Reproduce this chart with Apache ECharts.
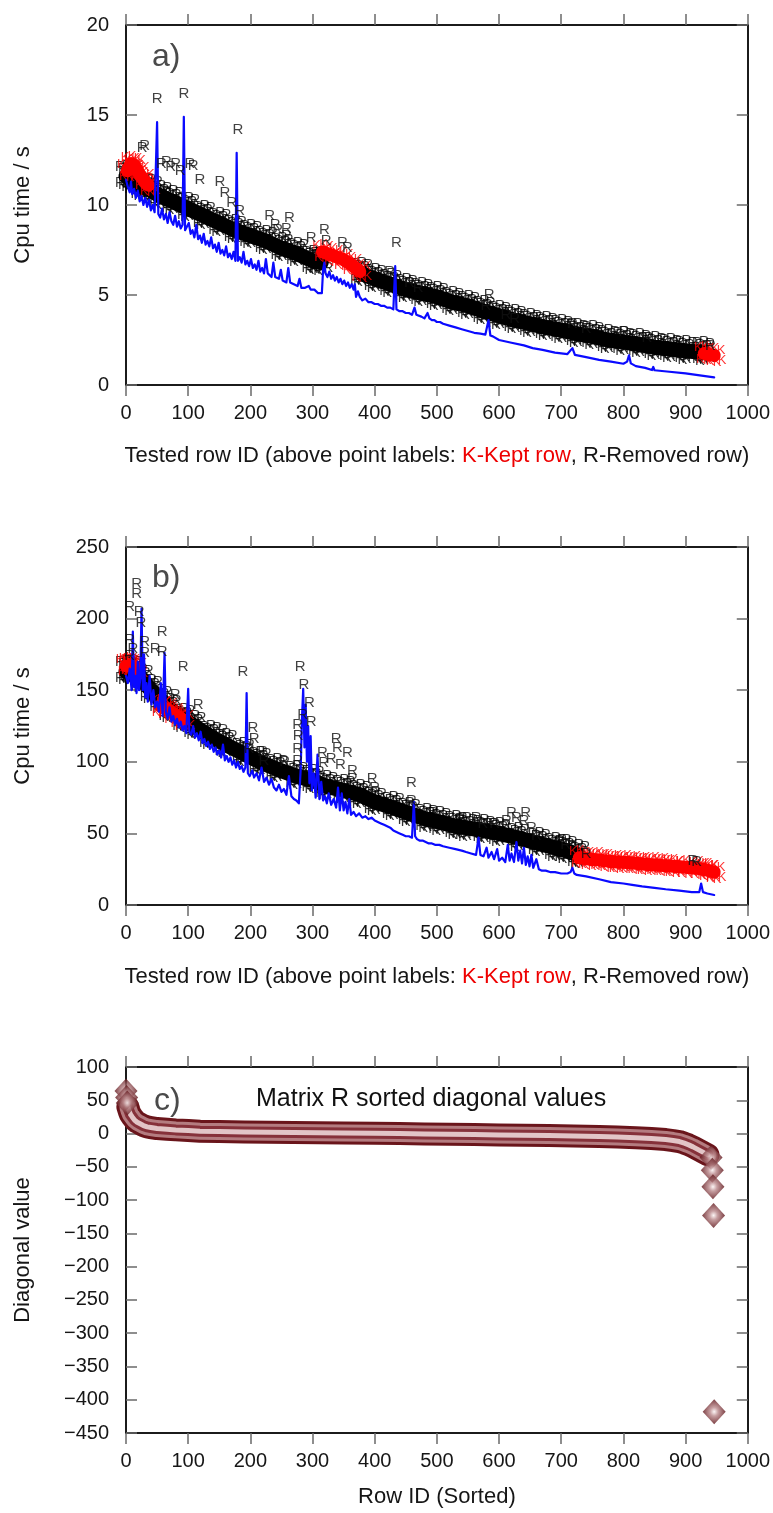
<!DOCTYPE html>
<html><head><meta charset="utf-8">
<script src="https://cdn.jsdelivr.net/npm/echarts/dist/echarts.min.js"></script>
<style>html,body{margin:0;padding:0;background:#fff}#c{width:773px;height:1513px}</style>
</head><body><div id="c"></div>
<script>
// ---------- tick labels ----------
const xTicks = [0,100,200,300,400,500,600,700,800,900,1000];
const yTicksA = [0,5,10,15,20];
const yTicksB = [0,50,100,150,200,250];
const yTicksC = [-450,-400,-350,-300,-250,-200,-150,-100,-50,0,50,100];

// ---------- panel a ----------
const cpuA = [[0,11.4],[3,11.0],[6,10.7],[8,11.3],[10,10.6],[13,10.9],[16,10.4],[19,10.8],[22,10.2],[25,10.5],[28,10.0],[31,10.4],[34,9.9],[37,10.3],[40,9.7],[43,10.0],[46,9.6],[48,9.5],[50,14.6],[52,9.5],[55,9.3],[58,9.8],[61,9.2],[64,9.5],[67,9.0],[70,9.6],[73,9.1],[76,8.9],[79,9.4],[82,8.8],[85,9.1],[88,8.7],[91,8.9],[93,14.9],[95,8.6],[98,8.5],[101,9.0],[104,8.4],[107,8.6],[110,8.2],[113,8.9],[116,8.1],[119,8.3],[122,7.9],[125,8.4],[128,7.8],[131,8.0],[134,7.7],[137,8.2],[140,7.6],[143,7.8],[146,7.4],[149,7.9],[152,7.3],[155,7.5],[158,7.2],[161,7.7],[164,7.1],[167,7.3],[170,7.0],[173,7.4],[176,6.9],[178,12.9],[180,6.9],[183,7.1],[186,6.8],[189,7.4],[192,6.7],[195,6.9],[198,6.6],[201,7.0],[204,6.5],[207,6.7],[210,6.4],[213,6.9],[216,6.3],[219,6.5],[222,6.2],[225,7.0],[228,6.2],[231,6.3],[234,6.0],[237,6.8],[240,6.0],[243,6.1],[246,5.9],[249,6.4],[252,5.8],[255,5.9],[258,5.7],[261,6.5],[264,5.7],[267,5.8],[270,5.6],[273,5.6],[276,5.5],[279,5.9],[282,5.4],[285,5.5],[288,5.4],[291,5.3],[294,5.5],[297,5.3],[300,5.2],[303,5.3],[306,5.2],[309,5.1],[312,5.2],[315,5.1],[317,6.4],[319,6.8],[321,6.2],[324,6.0],[327,6.3],[330,5.9],[333,6.1],[336,5.8],[339,6.0],[342,5.7],[345,5.9],[348,5.6],[351,5.8],[354,5.5],[357,5.7],[360,5.4],[363,5.6],[366,5.3],[368,5.6],[370,4.9],[373,5.2],[376,4.9],[380,4.7],[385,4.8],[390,4.6],[395,4.6],[400,4.5],[405,4.5],[410,4.4],[415,4.4],[420,4.3],[425,4.3],[430,4.2],[433,6.6],[435,4.2],[440,4.1],[445,4.1],[450,4.0],[455,4.0],[460,3.9],[464,4.3],[467,3.9],[470,3.8],[475,3.8],[480,3.7],[485,4.0],[488,3.7],[492,3.6],[496,3.6],[500,3.5],[505,3.5],[510,3.4],[520,3.3],[530,3.2],[540,3.1],[550,3.0],[560,2.9],[570,2.85],[578,2.8],[583,3.6],[586,2.75],[590,2.7],[600,2.5],[620,2.35],[640,2.2],[654,2.05],[670,1.95],[690,1.8],[710,1.72],[718,2.05],[722,1.67],[740,1.55],[761,1.4],[780,1.3],[800,1.18],[806,1.3],[809,1.65],[812,1.2],[820,1.05],[835,0.95],[846,0.83],[848,1.0],[850,0.82],[870,0.75],[900,0.65],[920,0.55],[946,0.42]];
const bandA = [
  [[0,11.6],[10,11.4],[25,11.0],[40,10.8],[55,10.5],[75,10.2],[100,9.8],[125,9.4],[150,9.0],[175,8.6],[200,8.3],[225,8.0],[250,7.6],[275,7.3],[300,6.9],[314,6.8]],
  [[378,6.2],[400,5.9],[425,5.6],[450,5.3],[475,5.1],[500,4.9],[525,4.6],[550,4.4],[575,4.1],[600,3.85],[625,3.6],[650,3.4],[675,3.2],[700,3.05],[725,2.85],[750,2.7],[775,2.5],[800,2.4],[825,2.25],[850,2.1],[875,2.0],[900,1.9],[928,1.8]]
];
const keptA = [
  [[2,11.9],[8,12.3],[14,12.2],[20,11.8],[28,11.4],[36,11.1]],
  [[316,7.4],[332,7.2],[348,7.0],[362,6.7],[376,6.3]],
  [[930,1.75],[946,1.65]]
];
const removedA = [[50,15.9],[93,16.2],[180,14.2],[26,13.2],[30,13.3],[57,12.3],[65,12.4],[72,12.1],[80,12.3],[87,11.9],[103,12.3],[108,12.2],[119,11.4],[151,11.3],[159,10.7],[170,10.1],[183,9.7],[231,9.4],[263,9.3],[240,8.9],[244,8.6],[258,8.7],[258,8.3],[298,8.2],[319,8.6],[322,8.0],[348,7.9],[356,7.6],[435,7.9],[424,6.3],[456,5.7],[470,5.4],[584,5.0],[579,4.4],[611,3.9],[625,3.7],[718,3.4],[740,3.1],[801,2.95],[838,2.6],[940,2.2]];

// ---------- panel b ----------
const cpuB = [[0,160],[3,155],[6,165],[9,150],[11,191],[13,152],[15,160],[17,148],[19,170],[21,150],[23,158],[25,207],[27,150],[29,175],[31,145],[33,155],[35,142],[38,160],[41,140],[44,150],[47,138],[50,142],[53,135],[56,155],[59,132],[62,176],[64,135],[67,130],[70,138],[73,128],[76,132],[79,126],[82,130],[85,124],[88,128],[91,122],[94,125],[97,120],[100,151],[102,121],[105,119],[108,125],[111,117],[114,120],[117,115],[120,121],[123,113],[126,116],[129,111],[132,114],[135,109],[138,112],[141,107],[144,110],[147,105],[150,108],[153,103],[156,112],[159,101],[162,104],[165,100],[168,103],[171,98],[174,101],[177,96],[180,100],[183,95],[186,97],[189,93],[192,96],[194,148],[196,92],[199,90],[203,94],[206,89],[210,92],[214,87],[218,96],[222,86],[226,89],[230,84],[234,88],[238,82],[242,80],[246,84],[250,79],[254,81],[258,77],[262,90],[266,76],[270,74],[274,73],[278,71],[281,95],[283,130],[285,151],[287,110],[289,140],[291,100],[293,125],[295,85],[297,118],[299,80],[302,92],[305,75],[308,105],[311,74],[314,86],[317,73],[320,76],[323,71],[326,78],[330,70],[334,74],[338,68],[341,82],[344,66],[347,78],[350,66],[353,72],[356,64],[359,74],[362,63],[366,65],[370,62],[375,64],[380,61],[385,62],[390,60],[395,61],[400,59],[405,58],[410,57],[415,56],[420,55],[425,54],[430,52],[435,51],[440,50],[445,49],[450,48],[455,48],[460,47],[463,72],[465,48],[468,46],[472,45],[477,45],[482,44],[487,43],[492,43],[497,42],[504,42],[510,41],[520,40],[530,39],[540,38],[547,37],[555,36],[563,35],[567,47],[570,35],[575,34],[580,40],[583,33],[588,37],[592,32],[597,39],[600,31],[605,33],[610,30],[614,42],[617,31],[620,36],[624,30],[628,44],[631,31],[634,38],[637,29],[640,40],[643,28],[646,34],[649,27],[652,35],[655,26],[660,32],[664,25],[669,24],[675,24],[682,23],[690,23],[700,22],[710,22],[715,23],[718,26],[721,22],[725,21],[740,20],[761,18],[780,16],[800,15],[814,14],[830,13],[850,12],[868,11],[890,10],[910,9],[922,9],[925,15],[928,9],[935,8],[946,7]];
const bandB = [
  [[0,163],[10,164],[25,158],[40,150],[55,143],[70,137],[92,130],[110,125],[135,118],[160,112],[188,106],[215,100],[242,95],[274,90],[300,87],[322,83],[350,80],[376,77],[400,72],[429,68],[455,64],[483,60],[504,58],[530,55],[547,54],[575,52],[600,50],[630,47],[664,43],[690,40],[707,38],[727,35]]
];
const keptB = [
  [[0,167],[5,168],[10,167],[16,165]],
  [[55,139],[65,137],[75,134],[85,131],[92,129]],
  [[729,33],[745,32],[760,31.5],[775,30.6],[790,30],[805,29.7],[820,29.2],[835,28.5],[850,28],[865,27.5],[880,27],[900,26.3],[921,25.5],[935,24.3],[946,23]]
];
const removedB = [[17,224],[17,217],[6,208],[21,205],[24,197],[6,185],[11,179],[6,174],[58,191],[47,179],[58,177],[30,184],[30,176],[92,166],[188,163],[280,166],[286,154],[79,147],[116,140],[156,122],[204,124],[206,116],[198,109],[220,107],[222,101],[255,100],[295,141],[284,133],[298,128],[276,126],[277,118],[276,109],[276,101],[316,106],[338,116],[340,110],[356,106],[318,99],[330,102],[345,98],[364,94],[364,88],[396,88],[400,82],[459,85],[459,73],[563,61],[574,57],[593,57],[620,64],[628,61],[643,64],[612,59],[640,59],[652,54],[660,48],[707,42],[740,36],[912,31],[918,30]];

// ---------- panel c ----------
const diagTube = [[3,40],[5,34],[7,29],[10,25],[14,20],[18,17],[22,15],[28,12],[34,10],[40,9],[50,7.5],[66,6.5],[80,5.5],[100,4.5],[119,3.5],[150,3],[190,2.5],[230,2],[270,1.6],[310,1.2],[350,0.8],[400,0.3],[440,0],[480,-0.5],[520,-1],[560,-1.5],[600,-2],[640,-2.5],[680,-3],[720,-3.7],[761,-4.5],[790,-5.3],[820,-6.3],[845,-7.5],[868,-9],[880,-10.5],[890,-12],[898,-14.5],[905,-17],[912,-20],[918,-23],[924,-26],[930,-29],[936,-32]];
const diagPoints = [[0,64],[1,54],[2,46],[941,-36],[943,-55],[944,-80],[945,-123],[946,-418]];

// ---------- styling ----------
const FONT = 'Liberation Sans, Arial, Helvetica, sans-serif';
const TXT = '#161616';
const axLine = {show:true, onZero:false, lineStyle:{color:'#1b1b1b', width:2}};
const tickOut = {show:true, inside:false, length:11, lineStyle:{color:'#6a6a6a', width:1.5}};
const tickIn = {show:true, inside:true, length:11, lineStyle:{color:'#6a6a6a', width:1.5}};
const minus = v => String(v).replace('-', '\u2212');

const grids = [
  {left:126, width:623, top:25, height:360},
  {left:126, width:623, top:547, height:358},
  {left:126, width:623, top:1067, height:366}
];
const xNameAB = '{n|Tested row ID (above point labels: }{k|K-Kept row}{n|, R-Removed row)}';
const xNames = [xNameAB, xNameAB, 'Row ID (Sorted)'];
const xGaps = [60, 61, 53];
const yNames = ['Cpu time / s', 'Cpu time / s', 'Diagonal value'];
const yTicks = [yTicksA, yTicksB, yTicksC];
const NAME_SIZE = 22;

const xAxis = [], yAxis = [];
for (let g = 0; g < 3; g++) {
  const xmin = xTicks[0], xmax = xTicks[xTicks.length-1], xint = xTicks[1]-xTicks[0];
  xAxis.push({type:'value', gridIndex:g, position:'bottom', min:xmin, max:xmax, interval:xint,
    axisLine:axLine, axisTick:tickOut, splitLine:{show:false},
    axisLabel:{show:true, margin:18, fontSize:20, color:TXT, fontFamily:FONT, formatter:v => String(v)},
    name:xNames[g], nameLocation:'middle', nameGap:xGaps[g],
    nameTextStyle:{fontSize:NAME_SIZE, color:TXT, fontFamily:FONT,
      rich:{n:{fontSize:NAME_SIZE, color:TXT, fontFamily:FONT}, k:{fontSize:NAME_SIZE, color:'#ee0000', fontFamily:FONT}}}});
  xAxis.push({type:'value', gridIndex:g, position:'top', min:xmin, max:xmax, interval:xint,
    axisLine:axLine, axisTick:tickOut, splitLine:{show:false}, axisLabel:{show:false}});
  const yt = yTicks[g];
  const ymin = yt[0], ymax = yt[yt.length-1], yint = yt[1]-yt[0];
  yAxis.push({type:'value', gridIndex:g, position:'left', min:ymin, max:ymax, interval:yint,
    axisLine:axLine, axisTick:tickIn, splitLine:{show:false},
    axisLabel:{show:true, margin:17, fontSize:20, color:TXT, fontFamily:FONT, formatter:minus},
    name:yNames[g], nameLocation:'middle', nameGap:92, nameRotate:90,
    nameTextStyle:{fontSize:NAME_SIZE, color:TXT, fontFamily:FONT}});
  yAxis.push({type:'value', gridIndex:g, position:'right', min:ymin, max:ymax, interval:yint,
    axisLine:axLine, axisTick:tickIn, splitLine:{show:false}, axisLabel:{show:false}});
}

function lineS(g, data, color, width, z) {
  return {type:'line', xAxisIndex:2*g, yAxisIndex:2*g, data, symbol:'none', smooth:false,
    lineStyle:{color, width, join:'round', cap:'round'}, z, silent:true, animation:false};
}
function letters(g, data, text, color, size, offset, z) {
  return {type:'scatter', xAxisIndex:2*g, yAxisIndex:2*g, data, symbol:'circle', symbolSize:1,
    itemStyle:{color:'rgba(0,0,0,0)'}, silent:true, animation:false, z,
    label:{show:true, formatter:text, position:'inside', offset, color, fontSize:size, fontFamily:FONT}};
}
// letter cloud offsets (pixels) giving the ragged edges of the label band
const cloudR = [[-6,-9],[1,-10],[7,-8],[-3,-7],[4,-6],[-6,7],[1,8],[7,6],[-3,9]];
const cloudK = [[-6,-6],[1,-7],[7,-5],[-4,6],[3,7],[8,5]];

const series = [];
function cpuPanel(g, cpu, band, kept, removed) {
  band.forEach(seg => {
    series.push(lineS(g, seg, '#000', 15, 2));
    cloudR.forEach(o => series.push(letters(g, seg, 'R', '#000', 14, o, 3)));
  });
  kept.forEach(seg => {
    series.push(lineS(g, seg, '#ff0000', 13, 4));
    cloudK.forEach(o => series.push(letters(g, seg, 'K', '#ff0000', 13, o, 4)));
  });
  series.push(lineS(g, cpu, '#0a0aff', 2.2, 5));
  series.push(letters(g, removed, 'R', '#111', 15, [0,0], 6));
}
cpuPanel(0, cpuA, bandA, keptA, removedA);
cpuPanel(1, cpuB, bandB, keptB, removedB);

// panel c tube
series.push(lineS(2, diagTube, '#6a151b', 23, 2));
series.push(lineS(2, diagTube, '#b47c80', 17, 3));
series.push(lineS(2, diagTube, '#86313a', 11, 4));
series.push(lineS(2, diagTube, '#e2c5c7', 5, 5));
series.push({type:'scatter', xAxisIndex:4, yAxisIndex:4, data:diagPoints, symbol:'diamond', symbolSize:[23,25],
  silent:true, animation:false, z:6,
  itemStyle:{color:{type:'radial', x:0.5, y:0.5, r:0.5, colorStops:[
    {offset:0, color:'#fbf3f3'}, {offset:0.35, color:'#b9878a'}, {offset:1, color:'#5c1015'}]}}});

const titleStyle = {fontSize:32, fontWeight:'normal', color:'#4a4a4a', fontFamily:FONT};
const option = {
  animation:false,
  backgroundColor:'#fff',
  title:[
    {text:'a)', left:152, top:41, padding:0, textStyle:titleStyle},
    {text:'b)', left:152, top:562, padding:0, textStyle:titleStyle},
    {text:'c)', left:154, top:1085, padding:0, textStyle:titleStyle},
    {text:'Matrix R sorted diagonal values', left:256, top:1087, padding:0,
      textStyle:{fontSize:25, fontWeight:'normal', color:'#111', fontFamily:FONT}}
  ],
  grid:grids, xAxis, yAxis, series
};
const chart = echarts.init(document.getElementById('c'), null, {renderer:'canvas'});
chart.setOption(option);
</script>
</body></html>
